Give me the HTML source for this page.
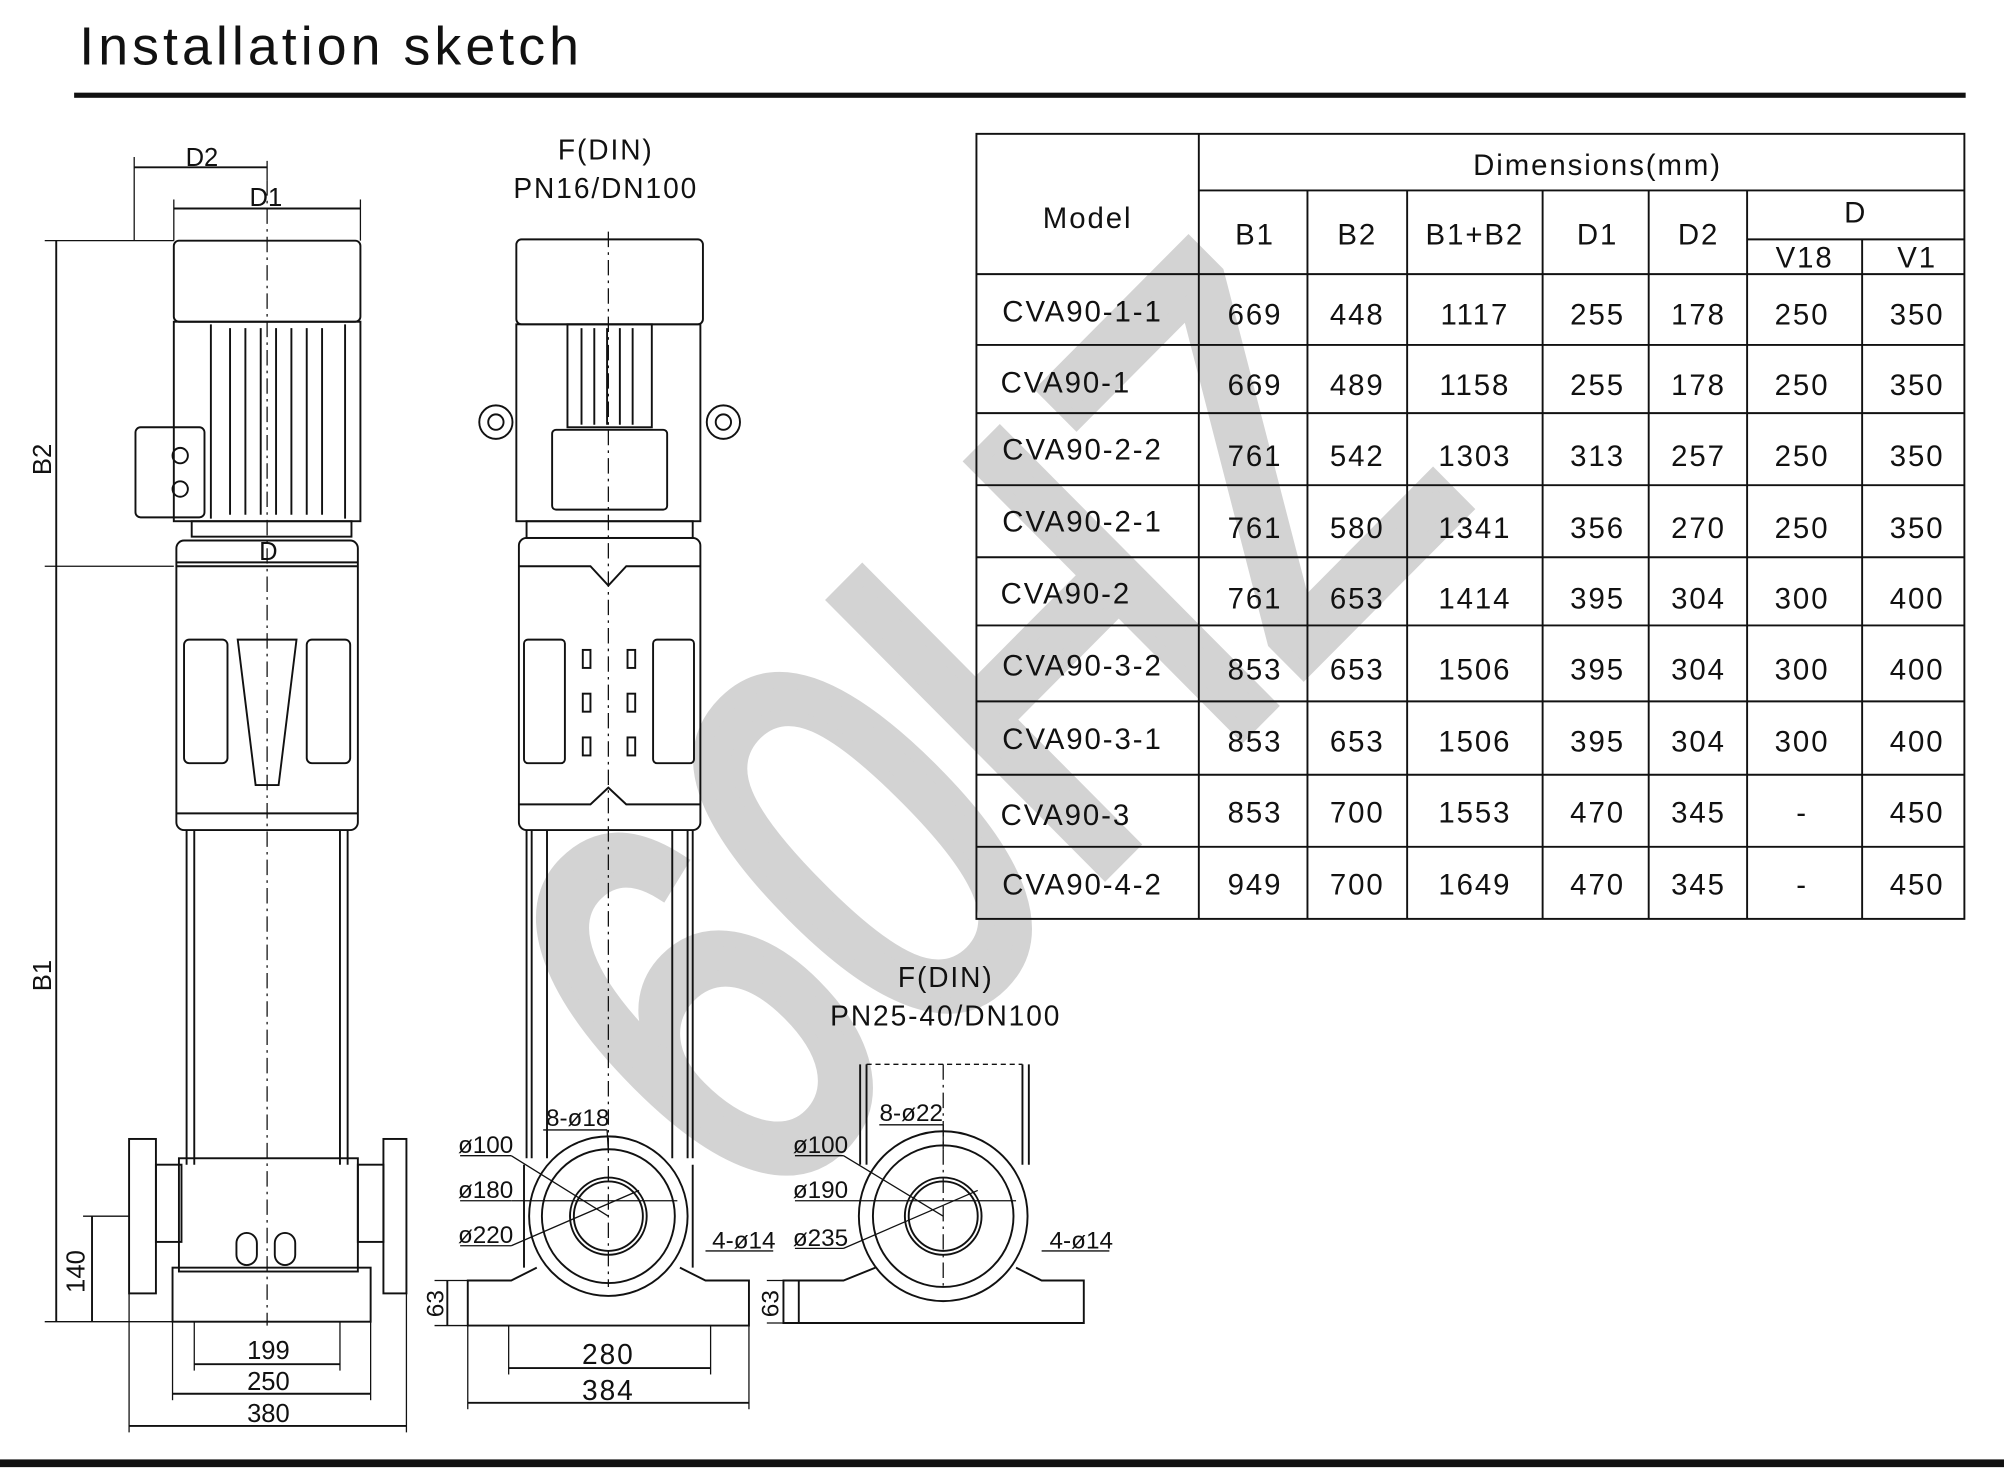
<!DOCTYPE html>
<html><head><meta charset="utf-8"><style>
html,body{margin:0;padding:0;background:#fff;}
svg{display:block;}
text{font-family:"Liberation Sans",sans-serif;fill:#111;}
.t text{letter-spacing:1.5px;}
</style></head><body>
<svg width="2004" height="1480" viewBox="0 0 1568 1150" preserveAspectRatio="none" xmlns="http://www.w3.org/2000/svg">
<!-- watermark -->
<text x="0" y="0" font-size="430" style="fill:#d3d3d3;stroke:#d3d3d3;stroke-width:14" text-anchor="middle" transform="translate(870,670) rotate(-45)" textLength="800" lengthAdjust="spacingAndGlyphs">60HZ</text>

<text x="62" y="50" font-size="42" textLength="391" lengthAdjust="spacing">Installation sketch</text>
<rect x="58" y="72" width="1480" height="4" fill="#111"/>
<rect x="0" y="1134" width="1568" height="6" fill="#111"/>

<!-- table -->
<g stroke="#111" stroke-width="1.5" fill="none">
<rect x="764" y="104" width="773" height="610"/>
<line x1="938" y1="104" x2="938" y2="714"/>
<line x1="938" y1="148" x2="1537" y2="148"/>
<line x1="1023" y1="148" x2="1023" y2="714"/>
<line x1="1101" y1="148" x2="1101" y2="714"/>
<line x1="1207" y1="148" x2="1207" y2="714"/>
<line x1="1290" y1="148" x2="1290" y2="714"/>
<line x1="1367" y1="148" x2="1367" y2="714"/>
<line x1="1457" y1="186" x2="1457" y2="714"/>
<line x1="1367" y1="186" x2="1537" y2="186"/>
<line x1="764" y1="213" x2="1537" y2="213"/>
<line x1="764" y1="268" x2="1537" y2="268"/>
<line x1="764" y1="321" x2="1537" y2="321"/>
<line x1="764" y1="377" x2="1537" y2="377"/>
<line x1="764" y1="433" x2="1537" y2="433"/>
<line x1="764" y1="486" x2="1537" y2="486"/>
<line x1="764" y1="545" x2="1537" y2="545"/>
<line x1="764" y1="602" x2="1537" y2="602"/>
<line x1="764" y1="658" x2="1537" y2="658"/>
</g>
<g class="t" font-size="23" text-anchor="middle">
<text x="851" y="177">Model</text>
<text x="1250" y="136">Dimensions(mm)</text>
<text x="982" y="190">B1</text><text x="1062" y="190">B2</text><text x="1154" y="190">B1+B2</text>
<text x="1250" y="190">D1</text><text x="1329" y="190">D2</text><text x="1452" y="173">D</text>
<text x="1412" y="208">V18</text><text x="1500" y="208">V1</text>
</g>
<g class="t" font-size="23" text-anchor="middle">
<text x="847" y="250">CVA90-1-1</text><text x="982" y="252">669</text><text x="1062" y="252">448</text><text x="1154" y="252">1117</text><text x="1250" y="252">255</text><text x="1329" y="252">178</text><text x="1410" y="252">250</text><text x="1500" y="252">350</text>
<text x="834" y="305">CVA90-1</text><text x="982" y="307">669</text><text x="1062" y="307">489</text><text x="1154" y="307">1158</text><text x="1250" y="307">255</text><text x="1329" y="307">178</text><text x="1410" y="307">250</text><text x="1500" y="307">350</text>
<text x="847" y="357">CVA90-2-2</text><text x="982" y="362">761</text><text x="1062" y="362">542</text><text x="1154" y="362">1303</text><text x="1250" y="362">313</text><text x="1329" y="362">257</text><text x="1410" y="362">250</text><text x="1500" y="362">350</text>
<text x="847" y="413">CVA90-2-1</text><text x="982" y="418">761</text><text x="1062" y="418">580</text><text x="1154" y="418">1341</text><text x="1250" y="418">356</text><text x="1329" y="418">270</text><text x="1410" y="418">250</text><text x="1500" y="418">350</text>
<text x="834" y="469">CVA90-2</text><text x="982" y="473">761</text><text x="1062" y="473">653</text><text x="1154" y="473">1414</text><text x="1250" y="473">395</text><text x="1329" y="473">304</text><text x="1410" y="473">300</text><text x="1500" y="473">400</text>
<text x="847" y="525">CVA90-3-2</text><text x="982" y="528">853</text><text x="1062" y="528">653</text><text x="1154" y="528">1506</text><text x="1250" y="528">395</text><text x="1329" y="528">304</text><text x="1410" y="528">300</text><text x="1500" y="528">400</text>
<text x="847" y="582">CVA90-3-1</text><text x="982" y="584">853</text><text x="1062" y="584">653</text><text x="1154" y="584">1506</text><text x="1250" y="584">395</text><text x="1329" y="584">304</text><text x="1410" y="584">300</text><text x="1500" y="584">400</text>
<text x="834" y="641">CVA90-3</text><text x="982" y="639">853</text><text x="1062" y="639">700</text><text x="1154" y="639">1553</text><text x="1250" y="639">470</text><text x="1329" y="639">345</text><text x="1410" y="639">-</text><text x="1500" y="639">450</text>
<text x="847" y="695">CVA90-4-2</text><text x="982" y="695">949</text><text x="1062" y="695">700</text><text x="1154" y="695">1649</text><text x="1250" y="695">470</text><text x="1329" y="695">345</text><text x="1410" y="695">-</text><text x="1500" y="695">450</text>
</g>

<!-- left pump -->
<g stroke="#111" stroke-width="1.5" fill="none">
<rect x="136" y="187" width="146" height="63" rx="4"/>
<rect x="136" y="250" width="146" height="155"/>
<line x1="165" y1="252" x2="165" y2="403"/><line x1="270" y1="252" x2="270" y2="403"/>
<line x1="180" y1="255" x2="180" y2="400"/><line x1="192" y1="255" x2="192" y2="400"/><line x1="204" y1="255" x2="204" y2="400"/><line x1="216" y1="255" x2="216" y2="400"/><line x1="228" y1="255" x2="228" y2="400"/><line x1="240" y1="255" x2="240" y2="400"/><line x1="252" y1="255" x2="252" y2="400"/>
<rect x="106" y="332" width="54" height="70" rx="4"/>
<circle cx="141" cy="354" r="6"/><circle cx="141" cy="380" r="6"/>
<rect x="150" y="405" width="125" height="12"/>
<rect x="138" y="420" width="142" height="225" rx="6"/>
<line x1="138" y1="440" x2="280" y2="440"/><line x1="138" y1="632" x2="280" y2="632"/>
<rect x="144" y="497" width="34" height="96" rx="4"/><rect x="240" y="497" width="34" height="96" rx="4"/>
<path d="M186 497 L232 497 L218 610 L200 610 Z"/>
<line x1="146" y1="645" x2="146" y2="905"/><line x1="152" y1="645" x2="152" y2="905"/>
<line x1="266" y1="645" x2="266" y2="905"/><line x1="272" y1="645" x2="272" y2="905"/>
<rect x="140" y="900" width="140" height="88"/>
<rect x="101" y="885" width="21" height="120"/><rect x="300" y="885" width="18" height="120"/>
<rect x="122" y="905" width="20" height="60"/><rect x="280" y="905" width="20" height="60"/>
<rect x="135" y="985" width="155" height="42"/>
<rect x="185" y="958" width="16" height="25" rx="8"/><rect x="215" y="958" width="16" height="25" rx="8"/>
<line x1="209" y1="140" x2="209" y2="1030" stroke-dasharray="12,4,2,4" stroke-width="1"/>
<line x1="105" y1="122" x2="105" y2="187" stroke-width="1"/><line x1="209" y1="125" x2="209" y2="140" stroke-width="1"/>
<line x1="105" y1="130" x2="209" y2="130"/><line x1="136" y1="162" x2="282" y2="162"/>
<line x1="136" y1="155" x2="136" y2="187" stroke-width="1"/><line x1="282" y1="155" x2="282" y2="187" stroke-width="1"/>
<line x1="138" y1="437" x2="280" y2="437"/>
<line x1="35" y1="187" x2="136" y2="187" stroke-width="1"/><line x1="35" y1="440" x2="136" y2="440" stroke-width="1"/>
<line x1="35" y1="1027" x2="135" y2="1027" stroke-width="1"/>
<line x1="44" y1="187" x2="44" y2="440"/><line x1="44" y1="440" x2="44" y2="1027"/>
<line x1="65" y1="945" x2="101" y2="945" stroke-width="1"/><line x1="72" y1="945" x2="72" y2="1027"/>
<line x1="152" y1="1060" x2="266" y2="1060"/><line x1="135" y1="1083" x2="290" y2="1083"/><line x1="101" y1="1108" x2="318" y2="1108"/>
<line x1="152" y1="1027" x2="152" y2="1065" stroke-width="1"/><line x1="266" y1="1027" x2="266" y2="1065" stroke-width="1"/>
<line x1="135" y1="1027" x2="135" y2="1088" stroke-width="1"/><line x1="290" y1="1027" x2="290" y2="1088" stroke-width="1"/>
<line x1="101" y1="1005" x2="101" y2="1113" stroke-width="1"/><line x1="318" y1="1005" x2="318" y2="1113" stroke-width="1"/>
</g>
<g font-size="20" text-anchor="middle">
<text x="158" y="129">D2</text><text x="208" y="160">D1</text><text x="210" y="435">D</text>
<text x="0" y="0" transform="translate(40,357) rotate(-90)">B2</text>
<text x="0" y="0" transform="translate(40,758) rotate(-90)">B1</text>
<text x="0" y="0" transform="translate(66,988) rotate(-90)">140</text>
<text x="210" y="1056">199</text><text x="210" y="1080">250</text><text x="210" y="1105">380</text>
</g>

<!-- middle pump -->
<g stroke="#111" stroke-width="1.5" fill="none">
<rect x="404" y="186" width="146" height="66" rx="4"/>
<rect x="404" y="252" width="144" height="153"/>
<rect x="444" y="252" width="66" height="80"/>
<line x1="455" y1="255" x2="455" y2="330"/><line x1="465" y1="255" x2="465" y2="330"/><line x1="475" y1="255" x2="475" y2="330"/><line x1="485" y1="255" x2="485" y2="330"/><line x1="495" y1="255" x2="495" y2="330"/>
<rect x="432" y="334" width="90" height="62" rx="3"/>
<circle cx="388" cy="328" r="13"/><circle cx="388" cy="328" r="6"/>
<circle cx="566" cy="328" r="13"/><circle cx="566" cy="328" r="6"/>
<rect x="412" y="405" width="130" height="13"/>
<rect x="406" y="418" width="142" height="227" rx="6"/>
<path d="M406 440 L462 440 L476 455 L490 440 L548 440"/>
<path d="M406 625 L462 625 L476 612 L490 625 L548 625"/>
<rect x="410" y="497" width="32" height="96" rx="3"/><rect x="511" y="497" width="32" height="96" rx="3"/>
<rect x="456" y="505" width="6" height="14"/><rect x="456" y="539" width="6" height="14"/><rect x="456" y="573" width="6" height="14"/>
<rect x="491" y="505" width="6" height="14"/><rect x="491" y="539" width="6" height="14"/><rect x="491" y="573" width="6" height="14"/>
<line x1="412" y1="645" x2="412" y2="900"/><line x1="416" y1="645" x2="416" y2="900"/><line x1="428" y1="645" x2="428" y2="900"/>
<line x1="526" y1="645" x2="526" y2="900"/><line x1="538" y1="645" x2="538" y2="900"/><line x1="542" y1="645" x2="542" y2="900"/>
<circle cx="476" cy="945" r="62"/><circle cx="476" cy="945" r="52"/><circle cx="476" cy="945" r="30"/><circle cx="476" cy="945" r="27"/>
<path d="M420 985 L400 995 L366 995 L366 1030 L586 1030 L586 995 L552 995 L532 985"/>
<line x1="410" y1="905" x2="410" y2="985"/><line x1="542" y1="905" x2="542" y2="985"/>
<line x1="476" y1="180" x2="476" y2="1000" stroke-dasharray="12,4,2,4" stroke-width="1"/>
<line x1="340" y1="995" x2="366" y2="995" stroke-width="1"/><line x1="340" y1="1030" x2="366" y2="1030" stroke-width="1"/><line x1="350" y1="995" x2="350" y2="1030"/>
<line x1="398" y1="1030" x2="398" y2="1068" stroke-width="1"/><line x1="556" y1="1030" x2="556" y2="1068" stroke-width="1"/><line x1="398" y1="1063" x2="556" y2="1063"/>
<line x1="366" y1="1030" x2="366" y2="1095" stroke-width="1"/><line x1="586" y1="1030" x2="586" y2="1095" stroke-width="1"/><line x1="366" y1="1090" x2="586" y2="1090"/>
<line x1="360" y1="898" x2="400" y2="898" stroke-width="1"/><line x1="400" y1="898" x2="476" y2="945" stroke-width="1"/>
<line x1="360" y1="933" x2="400" y2="933" stroke-width="1"/><line x1="400" y1="933" x2="530" y2="933" stroke-width="1"/>
<line x1="360" y1="968" x2="400" y2="968" stroke-width="1"/><line x1="400" y1="968" x2="500" y2="925" stroke-width="1"/>
<line x1="425" y1="878" x2="475" y2="878" stroke-width="1"/><line x1="475" y1="878" x2="476" y2="895" stroke-width="1"/>
<line x1="552" y1="972" x2="605" y2="972" stroke-width="1"/>
</g>
<g class="t" font-size="22" text-anchor="middle">
<text x="474" y="124">F(DIN)</text><text x="474" y="154">PN16/DN100</text>
<text x="476" y="1060">280</text><text x="476" y="1088">384</text>
<text x="740" y="767">F(DIN)</text><text x="740" y="797">PN25-40/DN100</text>
</g>
<g font-size="19" text-anchor="middle">
<text x="0" y="0" transform="translate(347,1013) rotate(-90)">63</text>
<text x="380" y="896">ø100</text><text x="380" y="931">ø180</text><text x="380" y="966">ø220</text>
<text x="452" y="875">8-ø18</text><text x="582" y="970">4-ø14</text>
<text x="0" y="0" transform="translate(609,1013) rotate(-90)">63</text>
<text x="642" y="896">ø100</text><text x="642" y="931">ø190</text><text x="642" y="968">ø235</text>
<text x="713" y="871">8-ø22</text><text x="846" y="970">4-ø14</text>
</g>

<!-- right small pump -->
<g stroke="#111" stroke-width="1.5" fill="none">
<line x1="673" y1="827" x2="673" y2="905"/><line x1="678" y1="827" x2="678" y2="905"/>
<line x1="800" y1="827" x2="800" y2="905"/><line x1="805" y1="827" x2="805" y2="905"/>
<line x1="678" y1="827" x2="800" y2="827" stroke-dasharray="4,3" stroke-width="1"/>
<circle cx="738" cy="945" r="66"/><circle cx="738" cy="945" r="55"/><circle cx="738" cy="945" r="30"/><circle cx="738" cy="945" r="27"/>
<path d="M685 985 L660 995 L613 995 L613 1028 L848 1028 L848 995 L815 995 L795 985"/>
<line x1="738" y1="827" x2="738" y2="1000" stroke-dasharray="12,4,2,4" stroke-width="1"/>
<line x1="600" y1="995" x2="613" y2="995" stroke-width="1"/><line x1="600" y1="1028" x2="613" y2="1028" stroke-width="1"/><line x1="625" y1="995" x2="625" y2="1028"/>
<line x1="622" y1="898" x2="660" y2="898" stroke-width="1"/><line x1="660" y1="898" x2="738" y2="945" stroke-width="1"/>
<line x1="622" y1="933" x2="660" y2="933" stroke-width="1"/><line x1="660" y1="933" x2="795" y2="933" stroke-width="1"/>
<line x1="622" y1="970" x2="660" y2="970" stroke-width="1"/><line x1="660" y1="970" x2="765" y2="925" stroke-width="1"/>
<line x1="688" y1="874" x2="738" y2="874" stroke-width="1"/><line x1="738" y1="874" x2="738" y2="893" stroke-width="1"/>
<line x1="815" y1="972" x2="868" y2="972" stroke-width="1"/>
</g>
</svg>
</body></html>
